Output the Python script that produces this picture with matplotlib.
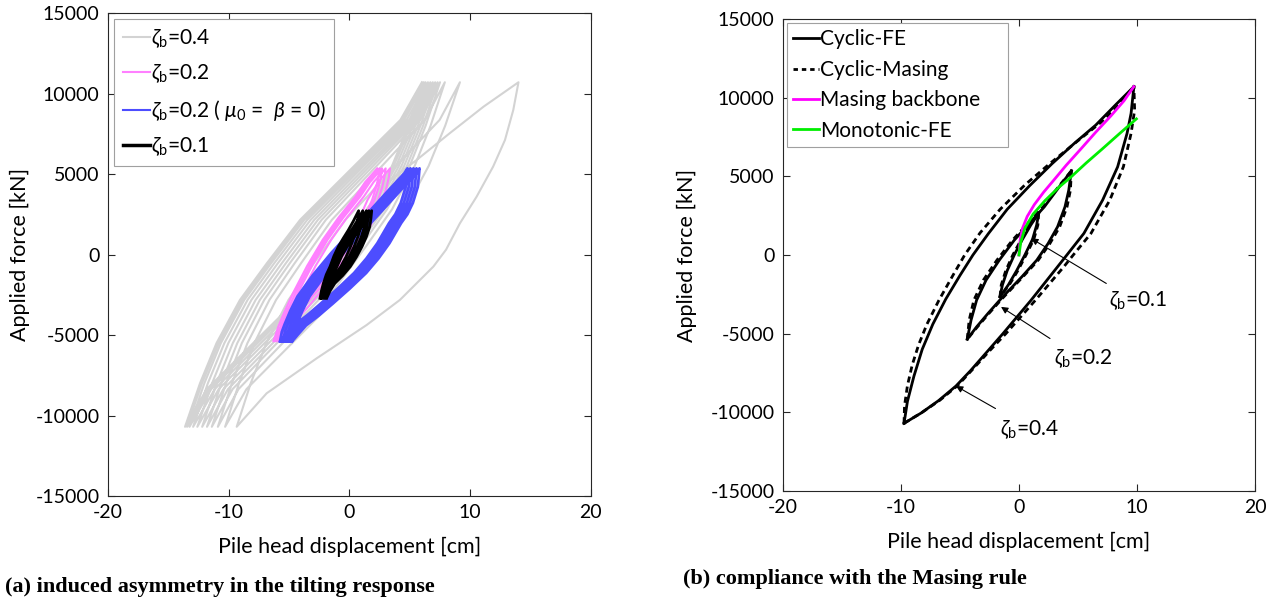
import matplotlib
matplotlib.use("Agg")
import matplotlib.pyplot as plt
from matplotlib.lines import Line2D

plt.rcParams['font.family'] = ['Lato', 'DejaVu Sans']
plt.rcParams['mathtext.fontset'] = 'custom'
plt.rcParams['mathtext.rm'] = 'Lato'
plt.rcParams['mathtext.it'] = 'Lato:italic'

# ======================= (a) data =======================
# zeta_b = 0.4 (grey): virgin loading, first unloading, then reload/unload branches
GRAY_VIRGIN_X = [0, 0.6, 1.5, 3.35, 5.56, 8.3, 11.1, 14.0]
GRAY_VIRGIN_F = [0, 1500, 2900, 4600, 5870, 7530, 9180, 10700]
GRAY_FIRST_DOWN_X = [14.0, 13.57, 12.88, 11.9, 10.53, 9.15, 8.0, 6.95, 4.18, 1.42, -2.72, -6.86, -9.34]
GRAY_FIRST_DOWN_F = [10700, 8980, 7110, 5460, 3590, 1940, 300, -750, -2820, -4380, -6450, -8620, -10700]
GRAY_UP_F = [-10700, -8000, -5500, -2820, -550, 2150, 4220, 6290, 8360, 10700]
GRAY_DOWN_F = [10700, 8000, 5500, 2820, 550, -2150, -4220, -6290, -8360, -10700]
GRAY_UP_X = [
    [-9.34, -8.18, -6.88, -5.05, -2.96, -0.35, 2.25, 4.86, 7.47, 9.15],
    [-10.3, -9.15, -7.88, -6.08, -4.02, -1.46, 1.11, 3.68, 6.24, 7.9],
    [-10.9, -9.74, -8.45, -6.63, -4.55, -1.96, 0.64, 3.23, 5.83, 7.5],
    [-11.4, -10.22, -8.91, -7.06, -4.95, -2.31, 0.33, 2.96, 5.6, 7.3],
    [-11.8, -10.61, -9.29, -7.42, -5.28, -2.62, 0.05, 2.72, 5.38, 7.1],
    [-12.2, -11.0, -9.66, -7.77, -5.61, -2.92, -0.22, 2.47, 5.16, 6.9],
    [-12.6, -11.38, -10.03, -8.12, -5.94, -3.22, -0.5, 2.22, 4.94, 6.7],
    [-12.95, -11.73, -10.36, -8.44, -6.24, -3.5, -0.75, 1.99, 4.73, 6.5],
    [-13.25, -12.02, -10.65, -8.71, -6.5, -3.75, -0.99, 1.76, 4.52, 6.3],
    [-13.45, -12.22, -10.84, -8.9, -6.69, -3.92, -1.16, 1.6, 4.37, 6.15],
    [-13.62, -12.38, -11.01, -9.07, -6.85, -4.09, -1.32, 1.45, 4.22, 6.0],
]
GRAY_DOWN_X = [
    [9.15, 7.93, 6.56, 4.64, 2.44, -0.3, -3.05, -5.79, -8.53, -10.3],
    [7.9, 6.72, 5.4, 3.54, 1.41, -1.24, -3.89, -6.54, -9.19, -10.9],
    [7.5, 6.31, 4.99, 3.12, 0.98, -1.69, -4.35, -7.02, -9.68, -11.4],
    [7.3, 6.1, 4.76, 2.87, 0.71, -1.98, -4.68, -7.37, -10.06, -11.8],
    [7.1, 5.88, 4.53, 2.62, 0.44, -2.28, -5.0, -7.72, -10.44, -12.2],
    [6.9, 5.67, 4.31, 2.38, 0.17, -2.58, -5.33, -8.08, -10.83, -12.6],
    [6.7, 5.46, 4.09, 2.14, -0.08, -2.85, -5.62, -8.39, -11.16, -12.95],
    [6.5, 5.26, 3.87, 1.92, -0.31, -3.1, -5.88, -8.67, -11.45, -13.25],
    [6.3, 5.06, 3.67, 1.72, -0.51, -3.3, -6.08, -8.87, -11.65, -13.45],
    [6.15, 4.9, 3.52, 1.56, -0.67, -3.46, -6.25, -9.03, -11.82, -13.62],
]

# zeta_b = 0.2 (pink)
PINK_VIRGIN_X = [0, 0.3, 0.8, 1.5, 2.4, 3.36]
PINK_VIRGIN_F = [0, 1000, 2200, 3400, 4500, 5350]
PINK_DOWN_F = [5350, 4800, 4200, 3400, 2550, 1600, 700, -100, -950, -1800, -2600, -3350, -4050, -4750, -5400]
PINK_UP_F = [-5400, -4430, -3500, -2390, -700, 920, 2300, 3600, 4500, 5350]
PINK_DOWN_X = [
    [3.36, 3.26, 3.08, 2.74, 2.25, 1.61, 0.87, 0.11, -0.76, -1.69, -2.71, -3.54, -4.36, -5.04, -5.6],
    [3.0, 2.9, 2.72, 2.38, 1.89, 1.25, 0.51, -0.25, -1.12, -2.05, -3.07, -3.9, -4.72, -5.4, -5.9],
    [2.7, 2.6, 2.42, 2.08, 1.59, 0.95, 0.21, -0.55, -1.42, -2.35, -3.37, -4.2, -5.02, -5.65, -6.1],
    [2.5, 2.4, 2.22, 1.88, 1.39, 0.75, 0.01, -0.75, -1.62, -2.55, -3.57, -4.4, -5.22, -5.85, -6.3],
]
PINK_UP_X = [
    [-5.6, -5.17, -4.65, -3.97, -2.8, -1.51, -0.2, 1.19, 2.0, 3.0],
    [-5.9, -5.47, -4.95, -4.27, -3.1, -1.81, -0.5, 0.89, 1.7, 2.7],
    [-6.1, -5.67, -5.15, -4.47, -3.3, -2.01, -0.7, 0.69, 1.5, 2.5],
    [-6.3, -5.87, -5.35, -4.67, -3.5, -2.21, -0.9, 0.49, 1.3, 2.3],
]

# zeta_b = 0.2 with mu0 = beta = 0 (blue)
BLUE_UP_F = [-5400, -4800, -4300, -3500, -2600, -1300, 100, 1450, 2800, 4000, 5050, 5350]
BLUE_DOWN_F = [5350, 4800, 4200, 3200, 2500, 1950, 700, -250, -1150, -2100, -3050, -3800, -4400, -5000, -5400]
BLUE_UP_X = [
    [-5.75, -5.6, -5.35, -4.9, -4.3, -3.05, -1.5, 0.15, 1.8, 3.25, 4.55, 4.8],
    [-5.5, -5.35, -5.1, -4.65, -4.05, -2.8, -1.25, 0.4, 2.05, 3.5, 4.8, 5.05],
    [-5.25, -5.1, -4.85, -4.4, -3.8, -2.55, -1.0, 0.65, 2.3, 3.75, 5.05, 5.3],
    [-5.0, -4.85, -4.6, -4.15, -3.55, -2.3, -0.75, 0.9, 2.55, 4.0, 5.3, 5.55],
    [-4.75, -4.6, -4.35, -3.9, -3.3, -2.05, -0.5, 1.15, 2.8, 4.25, 5.55, 5.8],
]
BLUE_DOWN_X = [
    [4.8, 4.74, 4.66, 4.25, 3.8, 3.28, 2.31, 1.4, 0.38, -0.95, -2.38, -3.55, -4.59, -5.3, -5.75],
    [5.05, 4.99, 4.91, 4.5, 4.05, 3.53, 2.56, 1.65, 0.63, -0.7, -2.13, -3.3, -4.34, -5.05, -5.5],
    [5.3, 5.24, 5.16, 4.75, 4.3, 3.78, 2.81, 1.9, 0.88, -0.45, -1.88, -3.05, -4.09, -4.8, -5.25],
    [5.55, 5.49, 5.41, 5.0, 4.55, 4.03, 3.06, 2.15, 1.13, -0.2, -1.63, -2.8, -3.84, -4.55, -5.0],
    [5.8, 5.74, 5.66, 5.25, 4.8, 4.28, 3.31, 2.4, 1.38, 0.05, -1.38, -2.55, -3.59, -4.3, -4.75],
]

# zeta_b = 0.1 (black)
BLACK_UP_F = [-2720, -2250, -1790, -1250, -750, -100, 490, 1000, 1520, 2100, 2720]
BLACK_DOWN_F = [2720, 2250, 1730, 1100, 490, -150, -750, -1300, -1790, -2250, -2720]
BLACK_UP_X = [
    [-2.44, -2.32, -2.16, -1.92, -1.61, -1.29, -0.92, -0.52, -0.09, 0.34, 0.76],
    [-2.35, -2.22, -2.05, -1.79, -1.46, -1.11, -0.71, -0.28, 0.18, 0.65, 1.1],
    [-2.25, -2.11, -1.93, -1.66, -1.3, -0.94, -0.52, -0.06, 0.43, 0.92, 1.4],
    [-2.15, -2.01, -1.82, -1.54, -1.18, -0.8, -0.37, 0.1, 0.6, 1.1, 1.6],
    [-2.03, -1.88, -1.69, -1.4, -1.03, -0.64, -0.19, 0.29, 0.81, 1.33, 1.84],
]
BLACK_DOWN_X = [
    [0.76, 0.71, 0.62, 0.39, 0.09, -0.29, -0.72, -1.23, -1.79, -2.11, -2.35],
    [1.1, 1.05, 0.95, 0.7, 0.38, -0.03, -0.49, -1.05, -1.64, -1.99, -2.25],
    [1.4, 1.34, 1.24, 0.98, 0.63, 0.2, -0.29, -0.88, -1.51, -1.87, -2.15],
    [1.6, 1.54, 1.44, 1.17, 0.82, 0.38, -0.12, -0.72, -1.37, -1.75, -2.03],
    [1.84, 1.78, 1.68, 1.4, 1.04, 0.58, 0.07, -0.55, -1.21, -1.6, -1.89],
]

# ======================= (b) data =======================
FE04_UP_X = [-9.74, -9.45, -8.9, -8.2, -7.3, -6.2, -5.0, -3.9, -2.6, -1.0, 0.9, 2.8, 4.7, 6.5, 8.2, 9.74]
FE04_UP_F = [-10700, -9300, -7700, -6000, -4400, -2800, -1300, 0, 1350, 2900, 4400, 5800, 7100, 8250, 9550, 10700]
FE04_DN_X = [-9.74, -8.3, -6.8, -5.34, -4.1, -2.7, -1.36, 1.03, 3.27, 4.06, 5.5, 7.09, 8.36, 9.16, 9.5, 9.74]
FE04_DN_F = [-10700, -10050, -9250, -8330, -7350, -6150, -5000, -2870, -750, 0, 1370, 3490, 5600, 7730, 9000, 10700]
MS04_UP_X = [-9.74, -9.7, -9.45, -9.05, -8.5, -7.8, -6.8, -5.6, -4.6, -3.3, -1.6, 0.5, 2.6, 4.9, 6.9, 8.5, 9.74]
MS04_UP_F = [-10700, -9600, -8300, -7000, -5700, -4400, -2900, -1300, 0, 1400, 2900, 4450, 5800, 7200, 8400, 9550, 10700]
MS04_DN_X = [-9.74, -8.2, -6.7, -5.2, -3.9, -2.5, -1.1, 1.4, 3.8, 4.6, 6.1, 7.7, 8.85, 9.5, 9.8, 9.74]
MS04_DN_F = [-10700, -10000, -9230, -8300, -7250, -6100, -4990, -2870, -750, 0, 1370, 3490, 5610, 7730, 9200, 10700]

FE02_UP_X = [-4.38, -4.06, -3.59, -2.79, -1.67, -0.4, 0.87, 2.15, 3.42, 4.44]
FE02_UP_F = [-5350, -4140, -2870, -1600, -330, 940, 2000, 3060, 4340, 5350]
FE02_DN_X = [4.44, 4.22, 3.9, 3.27, 2.47, 1.51, 0.24, -1.51, -2.63, -3.59, -4.38]
FE02_DN_F = [5350, 4120, 3060, 1790, 730, -330, -1390, -2770, -3720, -4570, -5350]
MS02_UP_X = [-4.38, -4.22, -3.82, -3.02, -1.87, -0.55, 0.75, 2.05, 3.35, 4.44]
MS02_DN_X = [4.44, 4.36, 4.07, 3.45, 2.62, 1.63, 0.33, -1.42, -2.55, -3.52, -4.38]

FE01_UP_X = [-1.61, -1.4, -1.0, -0.4, 0.3, 1.0, 1.67]
FE01_UP_F = [-2660, -1900, -1000, 0, 1000, 1900, 2660]
FE01_DN_X = [1.67, 1.5, 1.15, 0.5, -0.2, -0.9, -1.61]
FE01_DN_F = [2660, 1900, 1000, 0, -1000, -1900, -2660]
MS01_UP_X = [-1.61, -1.5, -1.12, -0.52, 0.2, 0.92, 1.67]
MS01_DN_X = [1.67, 1.6, 1.26, 0.6, -0.1, -0.82, -1.61]

BACKBONE_X = [0, 0.1, 0.3, 0.7, 1.3, 2.1, 3.0, 4.0, 5.2, 6.5, 7.8, 8.9, 9.73]
BACKBONE_F = [0, 950, 1700, 2450, 3200, 4000, 4800, 5700, 6700, 7800, 8850, 9800, 10700]
MONO_X = [0, 0.15, 0.5, 1.2, 2.2, 3.3, 4.4, 5.7, 7.0, 8.5, 9.95]
MONO_F = [0, 800, 1700, 2600, 3450, 4250, 4950, 5850, 6700, 7700, 8650]

ANNOT_TEXT = [r'$\zeta_{\rm b}$=0.1', r'$\zeta_{\rm b}$=0.2', r'$\zeta_{\rm b}$=0.4']
ANNOT_TIP = [(1.03, 1050), (-1.52, -3300), (-5.34, -8330)]
ANNOT_TAIL = [(7.4, -1810), (2.63, -5310), (-1.99, -9760)]
ANNOT_POS = [(7.6, -2900), (2.95, -6600), (-1.6, -11100)]

XTICKS = [-20, -10, 0, 10, 20]
YTICKS = [-15000, -10000, -5000, 0, 5000, 10000, 15000]

C_GRAY = '#d3d3d3'
C_PINK = '#ff80ff'
C_BLUE = '#4d4dff'
C_MAG = '#ff00ff'
C_GRN = '#00ee00'
AX_COL = '#262626'
DASH = (2.2, 1.5)


def path(up_x, up_f, dn_x, dn_f, start=None, down_first=False):
    xs, fs = [], []
    if start is not None:
        for sx, sf in start:
            xs += list(sx)
            fs += list(sf)
    first, second = (dn_x, up_x) if down_first else (up_x, dn_x)
    ff, sf_ = (dn_f, up_f) if down_first else (up_f, dn_f)
    for i in range(max(len(first), len(second))):
        if i < len(first):
            xs += first[i]; fs += ff
        if i < len(second):
            xs += second[i]; fs += sf_
    return xs, fs


def style(ax, ylabelpad):
    ax.set_xlim(-20, 20)
    ax.set_ylim(-15000, 15000)
    ax.set_xticks(XTICKS)
    ax.set_yticks(YTICKS)
    ax.set_xticklabels([str(t) for t in XTICKS])
    ax.set_yticklabels([str(t) for t in YTICKS])
    ax.tick_params(direction='in', top=True, right=True, length=5, width=0.8,
                   colors=AX_COL, labelsize=14, labelcolor='black', pad=6)
    for s in ax.spines.values():
        s.set_color(AX_COL)
        s.set_linewidth(0.8)
    ax.set_xlabel('Pile head displacement [cm]', fontsize=15.5, labelpad=11)
    ax.set_ylabel('Applied force [kN]', fontsize=15.5, labelpad=ylabelpad)


fig = plt.figure(figsize=(12.81, 6.0), dpi=100)
ax1 = fig.add_axes([0.0843, 0.1733, 0.377, 0.805])
ax2 = fig.add_axes([0.6112, 0.1817, 0.3685, 0.7867])

# ----- (a)
gx, gf = path(GRAY_UP_X, GRAY_UP_F, GRAY_DOWN_X, GRAY_DOWN_F,
              start=[(GRAY_VIRGIN_X, GRAY_VIRGIN_F), (GRAY_FIRST_DOWN_X, GRAY_FIRST_DOWN_F)])
ax1.plot(gx, gf, color=C_GRAY, lw=1.5, solid_joinstyle='round')
pxs, pfs = path(PINK_UP_X, PINK_UP_F, PINK_DOWN_X, PINK_DOWN_F,
                start=[(PINK_VIRGIN_X, PINK_VIRGIN_F)], down_first=True)
ax1.plot(pxs, pfs, color=C_PINK, lw=1.5)
bx, bf = path(BLUE_UP_X, BLUE_UP_F, BLUE_DOWN_X, BLUE_DOWN_F)
ax1.plot(bx, bf, color=C_BLUE, lw=2.0)
kx, kf = path(BLACK_UP_X, BLACK_UP_F, BLACK_DOWN_X, BLACK_DOWN_F)
ax1.plot(kx, kf, color='black', lw=2.0)
style(ax1, 4)

h1 = [Line2D([], [], color=C_GRAY, lw=1.5), Line2D([], [], color=C_PINK, lw=1.5),
      Line2D([], [], color=C_BLUE, lw=1.5), Line2D([], [], color='black', lw=2.5)]
l1 = [r'$\zeta_{\rm b}$=0.4', r'$\zeta_{\rm b}$=0.2',
      r'$\zeta_{\rm b}$=0.2 ( $\mu_0$ =  $\beta$ = 0)', r'$\zeta_{\rm b}$=0.1']
leg1 = ax1.legend(h1, l1, loc='upper left', fontsize=15, handlelength=1.3,
                  handletextpad=0.05, borderpad=0.4, labelspacing=0.6,
                  borderaxespad=0.3, fancybox=False, framealpha=1)
leg1.get_frame().set_edgecolor('#a0a0a0')
leg1.get_frame().set_linewidth(0.8)

# ----- (b)
for xs_, fs_ in [(FE04_UP_X, FE04_UP_F), (FE04_DN_X, FE04_DN_F),
                 (FE02_UP_X, FE02_UP_F), (FE02_DN_X, FE02_DN_F),
                 (FE01_UP_X, FE01_UP_F), (FE01_DN_X, FE01_DN_F)]:
    ax2.plot(xs_, fs_, color='black', lw=2.0)
for xs_, fs_ in [(MS04_UP_X, MS04_UP_F), (MS04_DN_X, MS04_DN_F),
                 (MS02_UP_X, FE02_UP_F), (MS02_DN_X, FE02_DN_F),
                 (MS01_UP_X, FE01_UP_F), (MS01_DN_X, FE01_DN_F)]:
    ax2.plot(xs_, fs_, color='black', lw=2.0, ls='--', dashes=DASH)
ax2.plot(BACKBONE_X, BACKBONE_F, color=C_MAG, lw=2.0)
ax2.plot(MONO_X, MONO_F, color=C_GRN, lw=2.0)
style(ax2, 10)

for txt, tip, tail, pos in zip(ANNOT_TEXT, ANNOT_TIP, ANNOT_TAIL, ANNOT_POS):
    ax2.annotate('', xy=tip, xytext=tail,
                 arrowprops=dict(arrowstyle='-|>', lw=0.8, color='black',
                                 mutation_scale=10, shrinkA=0, shrinkB=0))
    ax2.text(pos[0], pos[1], txt, fontsize=15, ha='left', va='center')

h2 = [Line2D([], [], color='black', lw=2), Line2D([], [], color='black', lw=2, ls='--', dashes=(1.6, 1.4)),
      Line2D([], [], color=C_MAG, lw=2), Line2D([], [], color=C_GRN, lw=2)]
l2 = ['Cyclic-FE', 'Cyclic-Masing', 'Masing backbone    ', 'Monotonic-FE']
leg2 = ax2.legend(h2, l2, loc='upper left', fontsize=15, handlelength=1.25,
                  handletextpad=0.05, borderpad=0.3, labelspacing=0.5,
                  borderaxespad=0.2, fancybox=False, framealpha=1)
leg2.get_frame().set_edgecolor('#a0a0a0')
leg2.get_frame().set_linewidth(0.8)

fig.text(0.004, 0.014, '(a) induced asymmetry in the tilting response',
         family='Liberation Serif', weight='bold', fontsize=16, ha='left', va='baseline')
fig.text(0.533, 0.026, '(b) compliance with the Masing rule',
         family='Liberation Serif', weight='bold', fontsize=16, ha='left', va='baseline')

fig.savefig('out.png', dpi=100)
